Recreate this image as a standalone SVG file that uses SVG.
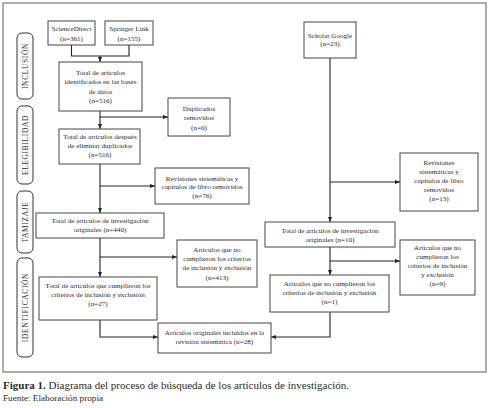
<svg xmlns="http://www.w3.org/2000/svg" width="489" height="408" viewBox="0 0 489 408">
<defs>
<marker id="ah" markerUnits="userSpaceOnUse" markerWidth="5" markerHeight="4" refX="5" refY="2" orient="auto">
<path d="M0,0 L5,2 L0,4 Z" fill="#222"/>
</marker>
<style>
.frame{fill:#fff;stroke:#777;stroke-width:1.2}
.box{fill:#fff;stroke:#444;stroke-width:1}
.phase{fill:#fff;stroke:#333;stroke-width:1}
.t{font-family:"Liberation Serif",serif;font-size:7.1px;fill:#2a2a2a;text-anchor:middle}
.ph{font-family:"Liberation Serif",serif;font-size:7.4px;fill:#2a2a2a;text-anchor:middle;letter-spacing:0.7px}
.c{fill:none;stroke:#222;stroke-width:1.1}
.cap{font-family:"Liberation Serif",serif;fill:#2a2a2a}
</style>
</defs>
<rect width="489" height="408" fill="#fff"/>
<rect class="frame" x="3" y="3" width="483" height="369"/>

<g id="phases">
<g id="ph-inclusion"><rect class="phase" x="17" y="33" width="16" height="66" rx="5"/><text class="ph" transform="translate(27.6,66) rotate(-90)">INCLUSIÓN</text></g>
<g id="ph-elegibilidad"><rect class="phase" x="17" y="106" width="16" height="78" rx="5"/><text class="ph" transform="translate(27.6,145) rotate(-90)">ELEGIBILIDAD</text></g>
<g id="ph-tamizaje"><rect class="phase" x="17" y="191" width="16" height="62" rx="5"/><text class="ph" transform="translate(27.6,222) rotate(-90)">TAMIZAJE</text></g>
<g id="ph-identificacion"><rect class="phase" x="17" y="258" width="16" height="99" rx="5"/><text class="ph" transform="translate(27.6,307.5) rotate(-90)">IDENTIFICACIÓN</text></g>
</g>

<g id="connectors">
<path class="c" d="M71.5,45 V56 H129 V45"/>
<path class="c" d="M100,56 V62" marker-end="url(#ah)"/>
<path class="c" d="M100,111 V129" marker-end="url(#ah)"/>
<path class="c" d="M100,117 H168" marker-end="url(#ah)"/>
<path class="c" d="M100,164 V213" marker-end="url(#ah)"/>
<path class="c" d="M100,186 H155" marker-end="url(#ah)"/>
<path class="c" d="M100,238 V277" marker-end="url(#ah)"/>
<path class="c" d="M100,257 H177" marker-end="url(#ah)"/>
<path class="c" d="M100,320 V337 H158" marker-end="url(#ah)"/>
<path class="c" d="M330,58 V222" marker-end="url(#ah)"/>
<path class="c" d="M330,182 H400" marker-end="url(#ah)"/>
<path class="c" d="M330,247 V275" marker-end="url(#ah)"/>
<path class="c" d="M330,261 H400" marker-end="url(#ah)"/>
<path class="c" d="M330,312 V337 H271" marker-end="url(#ah)"/>
</g>

<g id="n-sciencedirect"><rect class="box" x="48" y="21" width="47" height="24"/><text class="t" x="71.5" y="30.5">ScienceDirect</text><text class="t" x="71.5" y="40.5">(n=361)</text></g>
<g id="n-springer"><rect class="box" x="105" y="21" width="48" height="24"/><text class="t" x="129" y="30.5">Springer Link</text><text class="t" x="129" y="40.5">(n=155)</text></g>
<g id="n-identificados"><rect class="box" x="59" y="62" width="83" height="49"/><text class="t" x="100.5" y="74.5">Total de artículos</text><text class="t" x="100.5" y="84">identificados en las bases</text><text class="t" x="100.5" y="93.5">de datos</text><text class="t" x="100.5" y="102.5">(n=516)</text></g>
<g id="n-duplicados"><rect class="box" x="168" y="98" width="62" height="38"/><text class="t" x="199" y="110.5">Duplicados</text><text class="t" x="199" y="119.5">removidos</text><text class="t" x="199" y="129.5">(n=0)</text></g>
<g id="n-despues"><rect class="box" x="59" y="129" width="81" height="35"/><text class="t" x="100" y="138.5">Total de artículos después</text><text class="t" x="100" y="147.5">de eliminar duplicados</text><text class="t" x="100" y="156.5">(n=516)</text></g>
<g id="n-revisiones76"><rect class="box" x="155" y="168" width="94" height="36"/><text class="t" x="202" y="180.5">Revisiones sistemáticas y</text><text class="t" x="202" y="189">capítulos de libro removidos</text><text class="t" x="202" y="197.5">(n=76)</text></g>
<g id="n-originales440"><rect class="box" x="36" y="213" width="128" height="25"/><text class="t" x="100" y="222.5">Total de artículos de investigación</text><text class="t" x="100" y="231.5">originales (n=440)</text></g>
<g id="n-nocumplieron413"><rect class="box" x="177" y="240" width="80" height="47"/><text class="t" x="217" y="252">Artículos que no</text><text class="t" x="217" y="261">cumplieron los criterios</text><text class="t" x="217" y="270">de inclusión y exclusión</text><text class="t" x="217" y="280">(n=413)</text></g>
<g id="n-cumplieron27"><rect class="box" x="39" y="277" width="118" height="43"/><text class="t" x="98" y="287.5">Total de artículos que cumplieron los</text><text class="t" x="98" y="296.5">criterios de inclusión y exclusión</text><text class="t" x="98" y="305.5">(n=27)</text></g>
<g id="n-final"><rect class="box" x="158" y="323" width="113" height="30"/><text class="t" x="214.5" y="334.5">Artículos originales incluidos en la</text><text class="t" x="214.5" y="343.5">revisión sistemática (n=28)</text></g>
<g id="n-scholar"><rect class="box" x="304" y="22" width="52" height="36"/><text class="t" x="330" y="37.5">Scholar Google</text><text class="t" x="330" y="45.5">(n=23)</text></g>
<g id="n-revisiones13"><rect class="box" x="400" y="153" width="78" height="58"/><text class="t" x="439" y="164.5">Revisiones</text><text class="t" x="439" y="173.5">sistemáticas y</text><text class="t" x="439" y="182.5">capítulos de libro</text><text class="t" x="439" y="191.5">removidos</text><text class="t" x="439" y="200.5">(n=13)</text></g>
<g id="n-originales10"><rect class="box" x="265" y="222" width="130" height="25"/><text class="t" x="330" y="232.5">Total de artículos de investigación</text><text class="t" x="330" y="241.5">originales (n=10)</text></g>
<g id="n-nocumplieron9"><rect class="box" x="400" y="240" width="75" height="55"/><text class="t" x="437.5" y="249.5">Artículos que no</text><text class="t" x="437.5" y="258.5">cumplieron los</text><text class="t" x="437.5" y="267.5">criterios de inclusión</text><text class="t" x="437.5" y="276.5">y exclusión</text><text class="t" x="437.5" y="285.5">(n=9)</text></g>
<g id="n-nocumplieron1"><rect class="box" x="270" y="275" width="119" height="37"/><text class="t" x="329.5" y="285.5">Artículos que no cumplieron los</text><text class="t" x="329.5" y="294.5">criterios de inclusión y exclusión</text><text class="t" x="329.5" y="303.5">(n=1)</text></g>

<g id="caption">
<text class="cap" x="3" y="389" font-size="11"><tspan font-weight="bold">Figura 1.</tspan> Diagrama del proceso de búsqueda de los artículos de investigación.</text>
<text class="cap" x="3" y="401" font-size="9.2">Fuente: Elaboración propia</text>
</g>
</svg>
